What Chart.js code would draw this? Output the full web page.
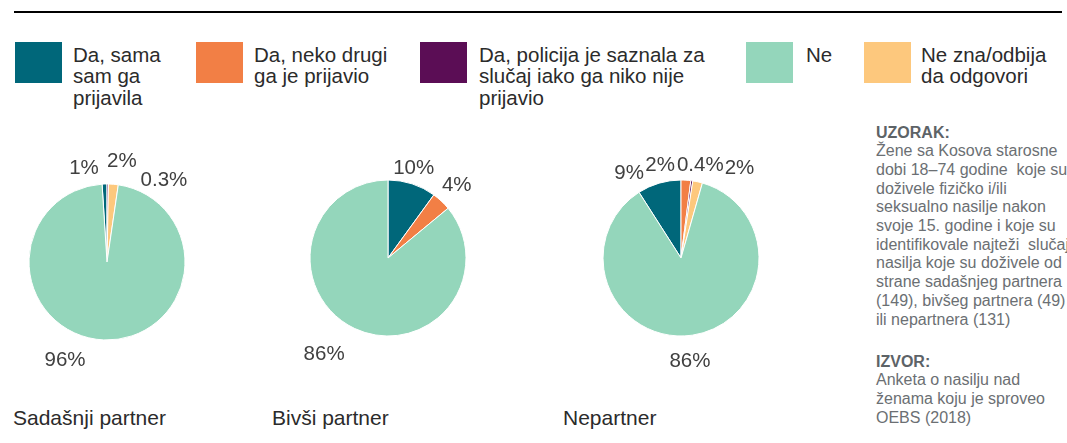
<!DOCTYPE html>
<html>
<head>
<meta charset="utf-8">
<script src="https://cdn.jsdelivr.net/npm/chart.js@4"></script>
<style>
  body { margin: 0; background: #fff; font-family: "Liberation Sans", Arial, sans-serif; }
  #wrap { position: relative; width: 1067px; height: 443px; overflow: hidden; }
  .rule { position: absolute; left: 14px; top: 11px; width: 1048px; height: 2px; background: #000; }
  .sw { position: absolute; top: 42px; width: 47px; height: 41px; }
  .lg { position: absolute; top: 44px; font-size: 20.5px; line-height: 21.3px; color: #2b2b2b; white-space: pre-line; }
  .pie { position: absolute; width: 260px; height: 260px; }
  .sub { position: absolute; top: 406.5px; font-size: 21px; line-height: 21px; color: #2b2b2b; }
  .note { position: absolute; left: 876px; font-size: 16px; line-height: 18.7px; color: #6b6f73; white-space: pre; }
  .note b { color: #5d6367; }
</style>
</head>
<body>
<div id="wrap">
  <div class="rule"></div>
  <div id="legend"></div>
  <canvas id="p0" class="pie" style="left:-23px;top:132px"></canvas>
  <canvas id="p1" class="pie" style="left:257.5px;top:128px"></canvas>
  <canvas id="p2" class="pie" style="left:551px;top:127.5px"></canvas>
  <div class="sub" style="left:13px">Sadašnji partner</div>
  <div class="sub" style="left:272px">Bivši partner</div>
  <div class="sub" style="left:563px">Nepartner</div>
  <div class="note" style="top:123.5px"><b>UZORAK:</b>
Žene sa Kosova starosne
dobi 18–74 godine  koje su
doživele fizičko i/ili
seksualno nasilje nakon
svoje 15. godine i koje su
identifikovale najteži  slučaj
nasilja koje su doživele od
strane sadašnjeg partnera
(149), bivšeg partnera (49)
ili nepartnera (131)</div>
  <div class="note" style="top:352.5px"><b>IZVOR:</b>
Anketa o nasilju nad
ženama koju je sproveo
OEBS (2018)</div>
</div>
<script>
// legend order
const categories = [
  'Da, sama\nsam ga\nprijavila',
  'Da, neko drugi\nga je prijavio',
  'Da, policija je saznala za\nslučaj iako ga niko nije\nprijavio',
  'Ne',
  'Ne zna/odbija\nda odgovori'
]
const colors = ['#00677a', '#f27f45', '#5b0d55', '#94d6bb', '#fdc87d']

const sadasnji = [1, 0, 0.3, 96, 2]
const bivsi = [10, 4, 0, 86, 0]
const nepartner = [9, 2, 0.4, 86, 2]

// order the slices go round the pie
const sliceOrder = [0, 1, 2, 4, 3]

// legend
const swX = [15, 196, 420, 746, 864]
const txtX = [73, 254, 479, 806, 921]
const legend = document.getElementById('legend')
categories.forEach((c, i) => {
  const s = document.createElement('div')
  s.className = 'sw'
  s.style.left = swX[i] + 'px'
  s.style.background = colors[i]
  legend.appendChild(s)
  const t = document.createElement('div')
  t.className = 'lg'
  t.style.left = txtX[i] + 'px'
  t.textContent = c
  legend.appendChild(t)
})

const labelPlugin = {
  id: 'outLabels',
  afterDatasetsDraw(chart, args, opts) {
    const ctx = chart.ctx
    const ds = chart.data.datasets[0]
    ctx.save()
    ctx.font = '20.5px "Liberation Sans", Arial, sans-serif'
    ctx.fillStyle = '#404040'
    ctx.textAlign = 'center'
    ctx.textBaseline = 'middle'
    chart.getDatasetMeta(0).data.forEach((arc, i) => {
      const v = ds.data[i]
      if (!v) return
      const p = arc.getProps(['x', 'y', 'startAngle', 'endAngle', 'outerRadius'], true)
      const mid = (p.startAngle + p.endAngle) / 2
      const r = p.outerRadius + 18
      const n = opts.nudge[i] || [0, 0]
      ctx.fillText(v + '%', p.x + Math.cos(mid) * r + n[0], p.y + Math.sin(mid) * r + n[1] + 2)
    })
    ctx.restore()
  }
}

function makePie(id, values, tealBeforeTop, nudge) {
  const data = sliceOrder.map(i => values[i])
  const total = data.reduce((a, b) => a + b, 0)
  new Chart(document.getElementById(id), {
    type: 'pie',
    data: {
      labels: sliceOrder.map(i => categories[i].replace(/\n/g, ' ')),
      datasets: [{
        data: data,
        backgroundColor: sliceOrder.map(i => colors[i]),
        borderColor: '#fff',
        borderWidth: 1
      }]
    },
    options: {
      responsive: false,
      animation: false,
      radius: 78,
      rotation: tealBeforeTop ? -data[0] / total * 360 : 0,
      layout: { padding: 0 },
      plugins: {
        legend: { display: false },
        tooltip: { enabled: false },
        outLabels: { nudge: nudge }
      }
    },
    plugins: [labelPlugin]
  })
}

// nudges in slice order: teal, orange, purple, yellow, green
makePie('p0', sadasnji, true, [[-20, 0], [0, 0], [56, 12.5], [7, -7], [-38, 0]])
makePie('p1', bivsi, false, [[-4, 0], [3, -5], [0, 0], [0, 0], [-23, 7]])
makePie('p2', nepartner, true, [[-25, 5], [-27, 1], [6, 0], [38, 2.5], [-5, 6]])
</script>
</body>
</html>
